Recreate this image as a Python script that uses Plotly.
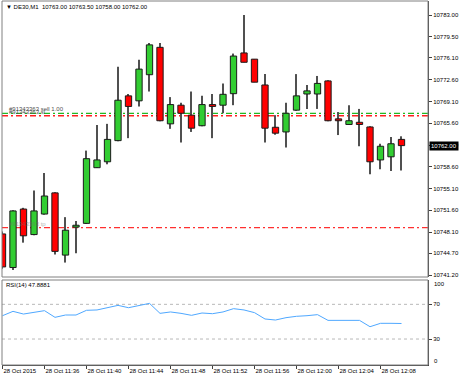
import plotly.graph_objects as go

# ---------------- data ----------------
opens = [10747.8, 10742.4, 10751.8, 10747.7, 10751.0, 10754.4, 10744.4, 10748.9, 10749.5, 10758.45,
         10759.4, 10762.8, 10770.0, 10769.2, 10773.4, 10777.8, 10765.5, 10768.5, 10766.9, 10765.2,
         10768.6, 10768.5, 10770.35, 10776.9, 10775.9, 10771.75, 10764.95, 10764.2, 10767.7, 10770.3,
         10770.3, 10772.4, 10766.3, 10765.4, 10765.75, 10765.0, 10759.7, 10760.2, 10763.0]
highs = [10748.2, 10751.6, 10752.0, 10754.8, 10757.6, 10754.5, 10750.5, 10749.9, 10761.2, 10765.3,
         10765.5, 10774.7, 10770.3, 10775.8, 10778.5, 10778.5, 10769.8, 10768.9, 10770.7, 10770.0,
         10770.3, 10772.0, 10776.8, 10783.0, 10775.9, 10773.5, 10766.9, 10768.9, 10773.5, 10771.75,
         10773.2, 10772.5, 10767.4, 10768.5, 10767.9, 10765.1, 10762.3, 10763.4, 10763.5]
lows = [10742.2, 10742.0, 10746.4, 10747.6, 10750.9, 10744.5, 10743.2, 10744.7, 10749.4, 10758.4,
        10759.0, 10762.7, 10763.2, 10768.3, 10770.7, 10765.9, 10764.7, 10762.5, 10764.2, 10765.1,
        10763.2, 10767.2, 10768.5, 10775.4, 10772.2, 10762.5, 10763.75, 10761.7, 10767.6, 10767.9,
        10767.9, 10765.9, 10763.7, 10765.3, 10761.9, 10757.4, 10758.2, 10757.9, 10758.0]
closes = [10742.5, 10751.5, 10747.5, 10751.5, 10753.9, 10745.0, 10748.4, 10749.2, 10759.9, 10759.7,
          10763.0, 10769.3, 10768.3, 10774.3, 10778.2, 10766.0, 10768.6, 10767.2, 10764.8, 10768.6,
          10768.3, 10770.25, 10776.4, 10775.4, 10772.2, 10764.8, 10764.0, 10767.2, 10770.0, 10770.8,
          10772.0, 10766.0, 10766.0, 10766.0, 10765.4, 10759.4, 10761.9, 10762.3, 10762.0]
rsi = [56.9, 61.9, 58.8, 60.8, 62.7, 55.0, 57.7, 57.7, 63.1, 63.5, 65.8, 68.8, 66.1, 68.8, 71.1,
       59.6, 61.2, 59.6, 57.3, 60.0, 59.2, 61.2, 65.0, 63.5, 60.4, 53.1, 51.9, 54.6, 56.2, 56.9,
       58.1, 51.5, 51.5, 51.5, 51.5, 44.2, 48.1, 48.1, 47.9]

time_tick_idx = [0, 4, 8, 12, 16, 20, 24, 28, 32, 36]
time_tick_labels = ["28 Oct 2015", "28 Oct 11:36", "28 Oct 11:40", "28 Oct 11:44", "28 Oct 11:48",
                    "28 Oct 11:52", "28 Oct 11:56", "28 Oct 12:00", "28 Oct 12:04", "28 Oct 12:08"]
price_ticks = [10783.00, 10779.50, 10776.10, 10772.60, 10769.10, 10765.60, 10762.10,
               10758.60, 10755.10, 10751.60, 10748.10, 10744.70, 10741.20]
rsi_ticks = [70, 30]
order_open = 10767.2
order_sl = 10766.8
order_tp = 10748.8
last_price = 10762.00
header = "▼ DE30,M1  10763.00 10763.50 10758.00 10762.00"
rsi_label = "RSI(14) 47.8881"

# ---------------- figure ----------------
W, H = 459, 377
FONT = "Liberation Sans"
FS = 6


def px(x):
    return x / W


def py(y):
    return 1 - y / H


idx = list(range(len(opens)))
up_col, dn_col = "#32CD32", "#FF0000"
body_base = [min(o, c) for o, c in zip(opens, closes)]
body_h = [max(abs(c - o), 0.15) for o, c in zip(opens, closes)]
body_col = [up_col if c >= o else dn_col for o, c in zip(opens, closes)]

fig = go.Figure()
fig.add_trace(go.Bar(x=idx, base=lows, y=[h - l for h, l in zip(highs, lows)], width=0.1,
                     marker=dict(color="#505050", line=dict(width=0)),
                     xaxis="x", yaxis="y", hoverinfo="skip"))
fig.add_trace(go.Bar(x=idx, base=body_base, y=body_h, width=0.6,
                     marker=dict(color=body_col, line=dict(color="#1a1a1a", width=1)),
                     xaxis="x", yaxis="y", hoverinfo="skip"))
fig.add_trace(go.Scatter(x=idx, y=rsi, mode="lines", line=dict(color="#4FA8FF", width=1),
                         xaxis="x2", yaxis="y2", hoverinfo="skip"))

xr = [(2 - 2.5) / 10.5, (428 - 2.5) / 10.5]
main_y_range = [10783 - (277 - 15) / 6.22, 10783 + (15 - 1) / 6.22]
rsi_range = [100 - (365 - 278.3) / 0.8675, 100 - (280 - 278.3) / 0.8675]

tickfont = dict(family=FONT, size=FS, color="black")
fig.update_layout(
    width=W, height=H, autosize=False,
    margin=dict(l=0, r=0, t=0, b=0),
    paper_bgcolor="white", plot_bgcolor="white",
    showlegend=False, barmode="overlay", hovermode=False,
    font=dict(family=FONT, size=FS, color="black"),
    xaxis=dict(domain=[px(2), px(428)], range=xr, anchor="y", showticklabels=False,
               showgrid=False, zeroline=False, ticks=""),
    yaxis=dict(domain=[py(277), py(1)], range=main_y_range, side="right", anchor="x",
               tickvals=price_ticks, ticktext=[f"{v:.2f}" for v in price_ticks],
               ticks="outside", ticklen=3, tickcolor="#404040", tickfont=tickfont,
               showgrid=False, zeroline=False, showline=True, linecolor="#404040", linewidth=1),
    xaxis2=dict(domain=[px(2), px(428)], range=xr, anchor="y2",
                tickvals=time_tick_idx, ticktext=time_tick_labels, tickangle=0,
                ticklabelposition="outside right", ticks="outside", ticklen=3,
                tickcolor="#404040", tickfont=tickfont,
                showgrid=False, zeroline=False, showline=True, linecolor="#404040"),
    yaxis2=dict(domain=[py(365), py(280)], range=rsi_range, side="right", anchor="x2",
                tickvals=rsi_ticks, ticktext=[str(v) for v in rsi_ticks],
                ticks="outside", ticklen=3, tickcolor="#404040", tickfont=tickfont,
                showgrid=False, zeroline=False, showline=True, linecolor="#404040"),
)

shapes = []
# panel frames
for y0, y1 in [(1, 277), (280, 365)]:
    shapes.append(dict(type="rect", xref="paper", yref="paper", x0=px(2), x1=px(428),
                       y0=py(y1), y1=py(y0), line=dict(color="#808080", width=1),
                       fillcolor="rgba(0,0,0,0)", layer="above"))
# order lines
for val, col in [(order_open, "#22B822"), (order_sl, "#FF2020"), (order_tp, "#FF3030")]:
    shapes.append(dict(type="line", xref="paper", yref="y", x0=px(2), x1=px(428), y0=val, y1=val,
                       line=dict(color=col, width=1.3, dash="6px,3px,2px,3px"), layer="below"))
# RSI levels
for val in rsi_ticks:
    shapes.append(dict(type="line", xref="paper", yref="y2", x0=px(2), x1=px(428), y0=val, y1=val,
                       line=dict(color="#B8B8B8", width=1, dash="dot"), layer="below"))
fig.update_layout(shapes=shapes)

ann = [
    dict(text=header, x=px(4), y=py(7), xref="paper", yref="paper", xanchor="left",
         yanchor="middle", showarrow=False, font=dict(family=FONT, size=FS, color="black")),
    dict(text=rsi_label, x=px(4), y=py(285), xref="paper", yref="paper", xanchor="left",
         yanchor="middle", showarrow=False, font=dict(family=FONT, size=FS, color="black")),
    dict(text="#91343363 sell 1.00", x=px(7), y=py(109), xref="paper", yref="paper",
         xanchor="left", yanchor="middle", showarrow=False,
         font=dict(family=FONT, size=FS, color="#505050")),
    dict(text="#91343363 sl", x=px(7), y=py(112), xref="paper", yref="paper",
         xanchor="left", yanchor="middle", showarrow=False,
         font=dict(family=FONT, size=FS, color="#505050")),
    dict(text="#91343363 tp", x=px(7), y=py(224), xref="paper", yref="paper",
         xanchor="left", yanchor="middle", showarrow=False, opacity=0.5,
         font=dict(family=FONT, size=FS, color="#707070")),
    dict(text="100", x=px(432), y=py(283.5), xref="paper", yref="paper", xanchor="left",
         yanchor="middle", showarrow=False, font=dict(family=FONT, size=FS, color="black")),
    dict(text="0", x=px(432), y=py(360.5), xref="paper", yref="paper", xanchor="left",
         yanchor="middle", showarrow=False, font=dict(family=FONT, size=FS, color="black")),
    dict(text=f"{last_price:.2f}", x=px(429), y=last_price, xref="paper", yref="y",
         xanchor="left", yanchor="middle", showarrow=False, bgcolor="black",
         borderpad=1, font=dict(family=FONT, size=FS, color="white")),
]
fig.update_layout(annotations=ann)

fig.write_html("out.html", config={"displayModeBar": False},
               post_script="document.body.style.margin='0px';document.body.style.overflow='hidden';")
